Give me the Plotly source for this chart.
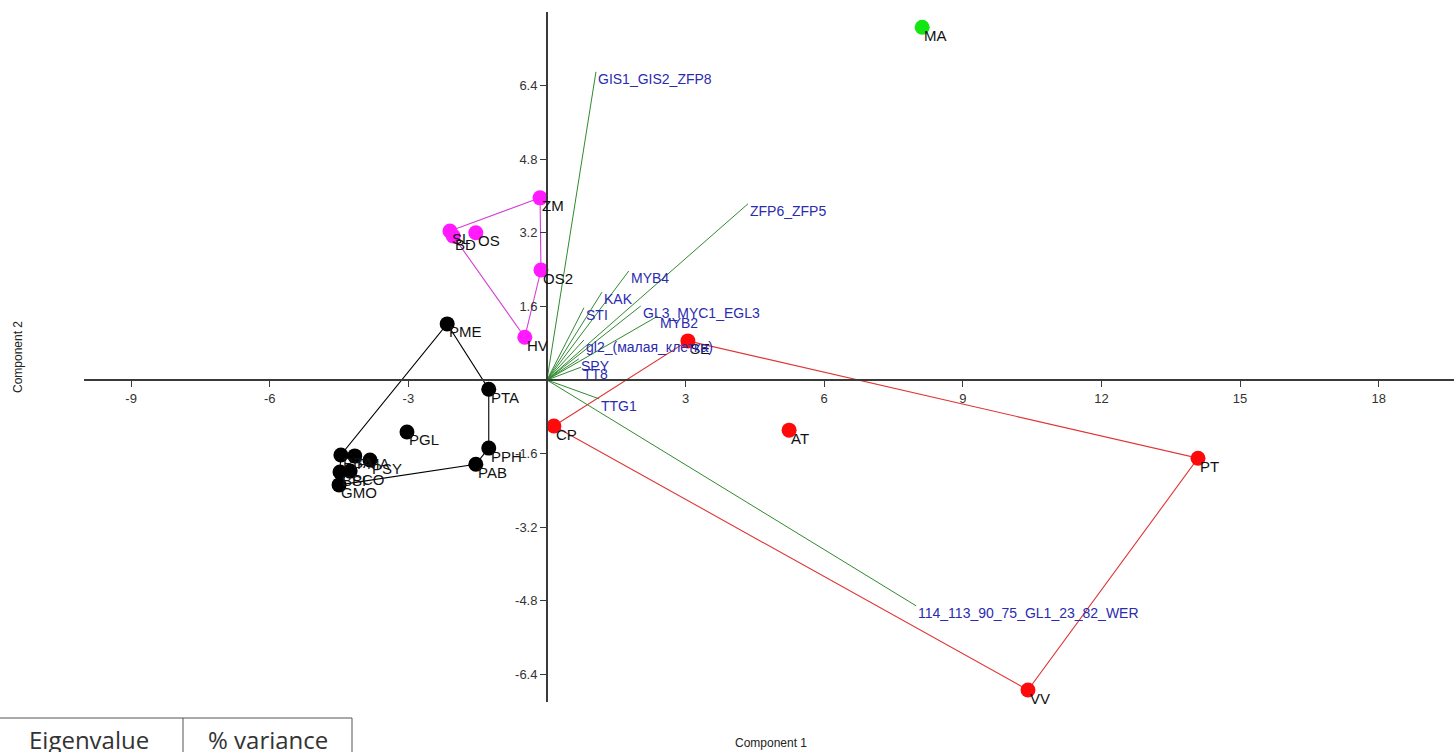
import numpy as np
import plotly.graph_objects as go

# ---- PCA scores (Component 1, Component 2) per sample, by group ----
black_names = ["PME", "PTA", "PGL", "PPH", "PAB", "PSY", "PBA", "PMA", "BSI", "PCO", "GMO"]
black_x = [-2.16, -1.26, -3.03, -1.26, -1.54, -3.83, -4.46, -4.16, -4.48, -4.26, -4.50]
black_y = [1.22, -0.20, -1.13, -1.48, -1.83, -1.74, -1.63, -1.65, -2.00, -1.98, -2.28]

pink_names = ["ZM", "SL", "BD", "OS", "OS2", "HV"]
pink_x = [-0.15, -2.10, -2.03, -1.54, -0.13, -0.48]
pink_y = [3.96, 3.24, 3.13, 3.20, 2.39, 0.93]

red_names = ["SE", "CP", "AT", "PT", "VV"]
red_x = [3.05, 0.15, 5.24, 14.09, 10.41]
red_y = [0.85, -1.00, -1.09, -1.70, -6.74]

green_names = ["MA"]
green_x = [8.12]
green_y = [7.67]

# ---- loadings (biplot vectors) ----
load_names = ["GIS1_GIS2_ZFP8", "ZFP6_ZFP5", "MYB4", "KAK", "STI", "GL3_MYC1_EGL3",
              "MYB2", "gl2_(малая_клетка)", "SPY", "TT8", "TTG1",
              "114_113_90_75_GL1_23_82_WER"]
load_x = [1.06, 4.35, 1.77, 1.19, 0.80, 2.03, 2.40, 0.80, 0.69, 0.74, 1.13, 7.99]
load_y = [6.70, 3.83, 2.37, 1.91, 1.57, 1.61, 1.39, 0.87, 0.46, 0.28, -0.41, -4.91]

# ---- axis ticks ----
x_ticks = [-9, -6, -3, 3, 6, 9, 12, 15, 18]
y_ticks = [6.4, 4.8, 3.2, 1.6, -1.6, -3.2, -4.8, -6.4]

X_RANGE = [-10.02, 19.63]
Y_RANGE = [-7.0, 8.0]

FONT = "Liberation Sans, Arial, sans-serif"
TABLE_FONT = "Open Sans, sans-serif"


def convex_hull(xs, ys):
    pts = sorted(set(zip(xs, ys)))
    if len(pts) < 3:
        return pts

    def cross(o, a, b):
        return (a[0] - o[0]) * (b[1] - o[1]) - (a[1] - o[1]) * (b[0] - o[0])

    lower, upper = [], []
    for p in pts:
        while len(lower) >= 2 and cross(lower[-2], lower[-1], p) <= 0:
            lower.pop()
        lower.append(p)
    for p in reversed(pts):
        while len(upper) >= 2 and cross(upper[-2], upper[-1], p) <= 0:
            upper.pop()
        upper.append(p)
    hull = lower[:-1] + upper[:-1]
    return hull + [hull[0]]


groups = [
    (black_names, black_x, black_y, "#000000", "#000000"),
    (pink_names, pink_x, pink_y, "#ff1aff", "#d63fd6"),
    (red_names, red_x, red_y, "#ff0a0a", "#e03535"),
    (green_names, green_x, green_y, "#14e614", "#14e614"),
]

fig = go.Figure()

# convex hulls
for names, xs, ys, mcol, lcol in groups:
    if len(xs) >= 3:
        hull = convex_hull(xs, ys)
        fig.add_trace(go.Scatter(
            x=[p[0] for p in hull], y=[p[1] for p in hull], mode="lines",
            line=dict(color=lcol, width=1.1), hoverinfo="skip", showlegend=False))

# loading vectors
for name, lx, ly in zip(load_names, load_x, load_y):
    fig.add_trace(go.Scatter(
        x=[0, lx], y=[0, ly], mode="lines",
        line=dict(color="#2f8a2f", width=1), hoverinfo="skip", showlegend=False))

# sample markers
for names, xs, ys, mcol, lcol in groups:
    fig.add_trace(go.Scatter(
        x=xs, y=ys, mode="markers", text=names,
        marker=dict(color=mcol, size=15, line=dict(width=0)),
        showlegend=False))

annotations = []
for names, xs, ys, mcol, lcol in groups:
    for n, xv, yv in zip(names, xs, ys):
        annotations.append(dict(
            x=xv, y=yv, xref="x", yref="y", text=n, showarrow=False,
            xanchor="left", yanchor="middle", xshift=0, yshift=-8,
            font=dict(family=FONT, size=15, color="#111111")))

for n, xv, yv in zip(load_names, load_x, load_y):
    annotations.append(dict(
        x=xv, y=yv, xref="x", yref="y", text=n, showarrow=False,
        xanchor="left", yanchor="middle", xshift=0, yshift=-7,
        font=dict(family=FONT, size=14, color="#2b2bb0")))

# axis titles and eigenvalue table header, placed in pixels
pixel_notes = [
    dict(x=771, y=743, text="Component 1",
         font=dict(family=FONT, size=12, color="#222222")),
    dict(x=18, y=357, text="Component 2", textangle=-90,
         font=dict(family=FONT, size=12, color="#222222")),
    dict(x=89, y=739, text="Eigenvalue",
         font=dict(family=TABLE_FONT, size=24, color="#333333")),
    dict(x=268, y=739, text="% variance",
         font=dict(family=TABLE_FONT, size=24, color="#333333")),
]

W, H = 1454, 752
ML, MR, MT, MB = 84, 0, 12, 50
PW, PH = W - ML - MR, H - MT - MB


def px_to_paper(px, py):
    return (px - ML) / PW, 1 - (py - MT) / PH


for a in pixel_notes:
    a["x"], a["y"] = px_to_paper(a["x"], a["y"])
    a.update(xref="paper", yref="paper", xanchor="center", yanchor="middle",
             showarrow=False)
    annotations.append(a)

shapes = []
x0, y0 = px_to_paper(-2, 718)
x1, y1 = px_to_paper(352, 760)
xm, _ = px_to_paper(183, 718)
shapes.append(dict(type="rect", xref="paper", yref="paper", x0=x0, y0=y1, x1=x1, y1=y0,
                   line=dict(color="#555555", width=1)))
shapes.append(dict(type="line", xref="paper", yref="paper", x0=xm, y0=y1, x1=xm, y1=y0,
                   line=dict(color="#555555", width=1)))

x_pos = (0 - X_RANGE[0]) / (X_RANGE[1] - X_RANGE[0])
y_pos = (0 - Y_RANGE[0]) / (Y_RANGE[1] - Y_RANGE[0])

fig.update_layout(
    width=W, height=H,
    margin=dict(l=ML, r=MR, t=MT, b=MB, pad=0),
    plot_bgcolor="white", paper_bgcolor="white",
    annotations=annotations, shapes=shapes,
    xaxis=dict(range=X_RANGE, anchor="free", position=y_pos, showline=True,
               linecolor="#3a3a3a", linewidth=1.8, showgrid=False, zeroline=False,
               tickvals=x_ticks, ticktext=[str(t) for t in x_ticks],
               ticks="outside", ticklen=6, tickcolor="#3a3a3a", tickwidth=1.3,
               tickfont=dict(family=FONT, size=13, color="#333333")),
    yaxis=dict(range=Y_RANGE, anchor="free", position=x_pos, showline=True,
               linecolor="#3a3a3a", linewidth=1.8, showgrid=False, zeroline=False,
               tickvals=y_ticks, ticktext=[f"{t:.1f}" for t in y_ticks],
               ticks="outside", ticklen=6, tickcolor="#3a3a3a", tickwidth=1.3,
               tickfont=dict(family=FONT, size=13, color="#333333")),
    hovermode="closest",
)

fig.write_html("out.html")
